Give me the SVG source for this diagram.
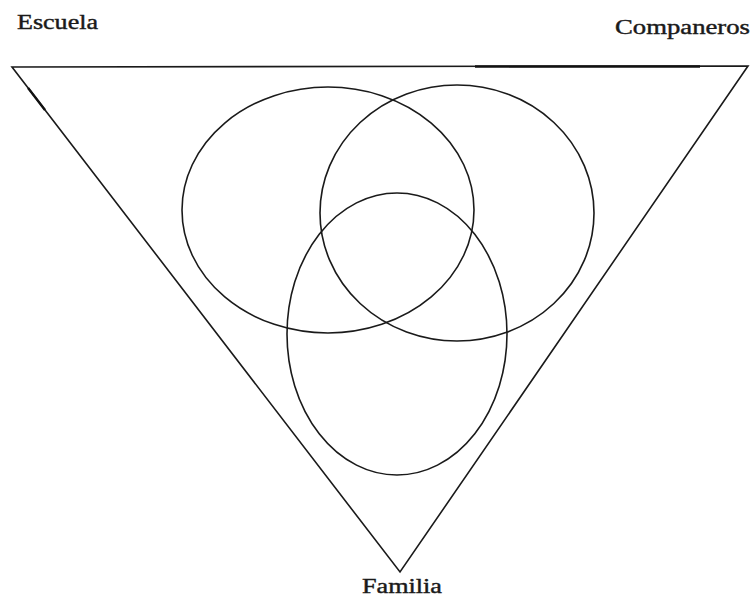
<svg xmlns="http://www.w3.org/2000/svg" width="755" height="599" viewBox="0 0 755 599">
<style>
.ln{fill:none;stroke:#1a1a1a;stroke-width:1.6}
.lb{font-family:"Liberation Serif","DejaVu Serif",serif;font-size:20px;fill:#1a1a1a;stroke:#1a1a1a;stroke-width:0.4}
</style>
<rect width="755" height="599" fill="#fff"/>
<g id="triangle">
<polygon class="ln" points="12,67 748,66 400,572"/>
<line x1="475" y1="66.5" x2="700" y2="66.5" stroke="#111" stroke-width="2.5"/>
<line x1="28.1" y1="88" x2="45" y2="110" stroke="#111" stroke-width="2.4"/>
</g>
<g id="escuela">
<ellipse class="ln" cx="328" cy="210" rx="146" ry="123"/>
<text class="lb" x="17" y="29" textLength="81" lengthAdjust="spacingAndGlyphs">Escuela</text>
</g>
<g id="companeros">
<ellipse class="ln" cx="457" cy="213" rx="137" ry="128"/>
<text class="lb" x="615" y="34" textLength="135" lengthAdjust="spacingAndGlyphs">Companeros</text>
</g>
<g id="familia">
<ellipse class="ln" cx="397" cy="334" rx="110" ry="141"/>
<text class="lb" x="362" y="593" textLength="80" lengthAdjust="spacingAndGlyphs">Familia</text>
</g>
<g id="connectors"/>
</svg>
